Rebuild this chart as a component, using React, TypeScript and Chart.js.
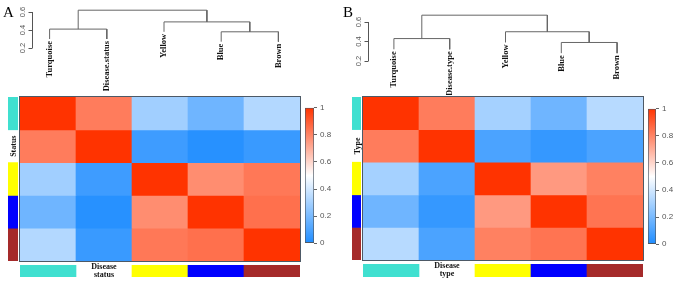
import React, { useEffect, useRef } from 'react';
import { Chart, registerables } from 'chart.js';
Chart.register(...registerables);

// ---------------- data ----------------
const LABELS_A = ['Turquoise', 'Disease.status', 'Yellow', 'Blue', 'Brown'];
const LABELS_B = ['Turquoise', 'Disease.type', 'Yellow', 'Blue', 'Brown'];

const CORR_A = [
  [1.0, 0.82, 0.29, 0.18, 0.33],
  [0.82, 1.0, 0.07, 0.02, 0.06],
  [0.29, 0.07, 1.0, 0.78, 0.83],
  [0.18, 0.02, 0.78, 1.0, 0.85],
  [0.33, 0.06, 0.83, 0.85, 1.0],
];
const CORR_B = [
  [1.0, 0.82, 0.3, 0.18, 0.34],
  [0.82, 1.0, 0.1, 0.05, 0.1],
  [0.3, 0.1, 1.0, 0.75, 0.81],
  [0.18, 0.05, 0.75, 1.0, 0.84],
  [0.34, 0.1, 0.81, 0.84, 1.0],
];

// hclust-style merges: [a, b, height]; negative = leaf (1-based), positive = earlier merge (1-based)
const MERGE_A = [[-4, -5, 0.38], [-1, -2, 0.41], [-3, 1, 0.49], [2, 3, 0.62]];
const MERGE_B = [[-4, -5, 0.39], [-1, -2, 0.43], [-3, 1, 0.5], [2, 3, 0.67]];
const HANG = 0.11;

const DENDRO_TICKS = [0.2, 0.4, 0.6];
const COLORBAR_TICKS = [0, 0.2, 0.4, 0.6, 0.8, 1];

const SIDE_COLORS = ['#40E0D0', null, '#FFFF00', '#0000FF', '#A52A2A'];
const BOTTOM_COLORS = ['#40E0D0', null, '#FFFF00', '#0000FF', '#A52A2A'];
const SIDE_LABEL_A = 'Status';
const SIDE_LABEL_B = 'Type';
const BOTTOM_LABEL_A = ['Disease', 'status'];
const BOTTOM_LABEL_B = ['Disease', 'type'];

// ---------------- styles ----------------
const SERIF = "'Liberation Serif', 'DejaVu Serif', serif";
const SANS = "'Liberation Sans', Arial, sans-serif";
const LOW = [30, 140, 255];
const MID = [255, 255, 255];
const HIGH = [255, 51, 0];

function colorFor(v: number) {
  let a, b, t;
  if (v < 0.5) { a = LOW; b = MID; t = v / 0.5; } else { a = MID; b = HIGH; t = (v - 0.5) / 0.5; }
  const c = a.map((x, i) => Math.round(x + (b[i] - x) * t));
  return `rgb(${c[0]},${c[1]},${c[2]})`;
}
const rgb = (c: number[]) => `rgb(${c[0]},${c[1]},${c[2]})`;

function buildDendro(merges: number[][], n: number) {
  const pos: { x: number; h: number }[] = [];
  const leafBottom: number[] = new Array(n).fill(0);
  const segs: { x: number; y: number }[][] = [];
  merges.forEach(([a, b, h]) => {
    const child = (c: number) => {
      if (c < 0) {
        const leaf = -c - 1;
        leafBottom[leaf] = h - HANG;
        return { x: leaf + 0.5, y: h - HANG };
      }
      return { x: pos[c - 1].x, y: pos[c - 1].h };
    };
    const ca = child(a);
    const cb = child(b);
    segs.push([{ x: ca.x, y: ca.y }, { x: ca.x, y: h }, { x: cb.x, y: h }, { x: cb.x, y: cb.y }]);
    pos.push({ x: (ca.x + cb.x) / 2, h });
  });
  return { segs, leafBottom };
}

function ChartBox({ left, top, width, height, config }: any) {
  const ref = useRef<HTMLCanvasElement>(null);
  useEffect(() => {
    const chart = new Chart(ref.current as HTMLCanvasElement, config);
    return () => chart.destroy();
  }, []);
  return (
    <canvas
      ref={ref}
      width={width}
      height={height}
      style={{ position: 'absolute', left, top, width, height }}
    />
  );
}

const baseOptions = (padding: any) => ({
  animation: false,
  responsive: false,
  devicePixelRatio: 1,
  layout: { padding },
  plugins: { legend: { display: false }, tooltip: { enabled: false } },
});

function dendroConfig(labels: string[], merges: number[][], yMin: number, yMax: number, padL: number, padR: number, axisX: number, letter: string) {
  const { segs, leafBottom } = buildDendro(merges, labels.length);
  return {
    type: 'scatter',
    data: {
      datasets: segs.map((s) => ({
        data: s,
        showLine: true,
        borderColor: '#666',
        borderWidth: 1,
        pointRadius: 0,
        fill: false,
        tension: 0,
      })),
    },
    options: {
      ...baseOptions({ left: padL, right: padR, top: 0, bottom: 0 }),
      scales: {
        x: { type: 'linear', min: 0, max: labels.length, display: false },
        y: { type: 'linear', min: yMin, max: yMax, display: false },
      },
    },
    plugins: [
      {
        id: 'dendroText',
        afterDraw(chart: any) {
          const ctx = chart.ctx;
          const xs = chart.scales.x;
          const ys = chart.scales.y;
          ctx.save();
          // leaf labels
          ctx.fillStyle = '#111';
          ctx.font = `bold 8.5px ${SERIF}`;
          labels.forEach((lab, i) => {
            const px = xs.getPixelForValue(i + 0.5);
            const py = ys.getPixelForValue(leafBottom[i]) + 2;
            ctx.save();
            ctx.translate(px, py);
            ctx.rotate(-Math.PI / 2);
            ctx.textAlign = 'right';
            ctx.textBaseline = 'middle';
            ctx.fillText(lab, 0, 0);
            ctx.restore();
          });
          // height axis
          const ax = Math.round(xs.getPixelForValue(axisX)) + 0.5;
          const yTop = ys.getPixelForValue(DENDRO_TICKS[DENDRO_TICKS.length - 1]);
          const yBot = ys.getPixelForValue(DENDRO_TICKS[0]);
          ctx.strokeStyle = '#555';
          ctx.lineWidth = 1;
          ctx.beginPath();
          ctx.moveTo(ax, yTop);
          ctx.lineTo(ax, yBot);
          DENDRO_TICKS.forEach((t) => {
            const ty = Math.round(ys.getPixelForValue(t)) + 0.5;
            ctx.moveTo(ax, ty);
            ctx.lineTo(ax - 4, ty);
          });
          ctx.stroke();
          ctx.fillStyle = '#555';
          ctx.font = `7.5px ${SANS}`;
          DENDRO_TICKS.forEach((t) => {
            const ty = ys.getPixelForValue(t);
            ctx.save();
            ctx.translate(ax - 10, ty);
            ctx.rotate(-Math.PI / 2);
            ctx.textAlign = 'center';
            ctx.textBaseline = 'middle';
            ctx.fillText(t.toFixed(1), 0, 0);
            ctx.restore();
          });
          // panel letter
          ctx.fillStyle = '#000';
          ctx.font = `15px ${SERIF}`;
          ctx.textAlign = 'left';
          ctx.textBaseline = 'alphabetic';
          ctx.fillText(letter, 3, 17);
          ctx.restore();
        },
      },
    ],
  };
}

function heatConfig(labels: string[], corr: number[][]) {
  const n = labels.length;
  return {
    type: 'bar',
    data: {
      labels,
      datasets: corr.map((row, r) => ({
        data: row.map(() => [n - 1 - r, n - r]),
        backgroundColor: row.map((v) => colorFor(v)),
        borderWidth: 0,
        barPercentage: 1,
        categoryPercentage: 1,
        grouped: false,
      })),
    },
    options: {
      ...baseOptions(1),
      scales: {
        x: { display: false },
        y: { type: 'linear', min: 0, max: n, display: false },
      },
    },
    plugins: [
      {
        id: 'frame',
        afterDraw(chart: any) {
          const { left, top, right, bottom } = chart.chartArea;
          const ctx = chart.ctx;
          ctx.save();
          ctx.strokeStyle = '#4d5966';
          ctx.lineWidth = 1;
          ctx.strokeRect(Math.round(left) - 0.5, Math.round(top) - 0.5, Math.round(right - left) + 1, Math.round(bottom - top) + 1);
          ctx.restore();
        },
      },
    ],
  };
}

function sideConfig(colors: (string | null)[], label: string) {
  const n = colors.length;
  return {
    type: 'bar',
    data: {
      labels: ['side'],
      datasets: colors.map((c, r) => ({
        data: [[n - 1 - r, n - r]],
        backgroundColor: c || 'rgba(0,0,0,0)',
        borderWidth: 0,
        barPercentage: 1,
        categoryPercentage: 1,
        grouped: false,
      })),
    },
    options: {
      ...baseOptions({ left: 2, right: 2, top: 0, bottom: 0 }),
      scales: {
        x: { display: false },
        y: { type: 'linear', min: 0, max: n, display: false },
      },
    },
    plugins: [
      {
        id: 'sideText',
        afterDraw(chart: any) {
          const idx = colors.findIndex((c) => !c);
          if (idx < 0) return;
          const ys = chart.scales.y;
          const cy = ys.getPixelForValue(n - idx - 0.5);
          const cx = (chart.chartArea.left + chart.chartArea.right) / 2 + 1;
          const ctx = chart.ctx;
          ctx.save();
          ctx.translate(cx, cy);
          ctx.rotate(-Math.PI / 2);
          ctx.fillStyle = '#111';
          ctx.font = `bold 8px ${SERIF}`;
          ctx.textAlign = 'center';
          ctx.textBaseline = 'middle';
          ctx.fillText(label, 0, 0);
          ctx.restore();
        },
      },
    ],
  };
}

function bottomConfig(colors: (string | null)[], lines: string[], lineGap: number) {
  return {
    type: 'bar',
    data: {
      labels: colors.map((_, i) => String(i)),
      datasets: [
        {
          data: colors.map(() => [0, 1]),
          backgroundColor: colors.map((c) => c || 'rgba(0,0,0,0)'),
          borderWidth: 0,
          barPercentage: 1,
          categoryPercentage: 1,
        },
      ],
    },
    options: {
      ...baseOptions({ left: 0, right: 0, top: 3, bottom: 6 }),
      scales: {
        x: { display: false },
        y: { type: 'linear', min: 0, max: 1, display: false },
      },
    },
    plugins: [
      {
        id: 'bottomText',
        afterDraw(chart: any) {
          const idx = colors.findIndex((c) => !c);
          if (idx < 0) return;
          const cx = chart.scales.x.getPixelForValue(idx);
          const ctx = chart.ctx;
          ctx.save();
          ctx.fillStyle = '#111';
          ctx.font = `bold 8px ${SERIF}`;
          ctx.textAlign = 'center';
          ctx.textBaseline = 'middle';
          lines.forEach((l, i) => ctx.fillText(l, cx, 4.5 + i * lineGap));
          ctx.restore();
        },
      },
    ],
  };
}

function colorbarConfig(axisWidth: number) {
  return {
    type: 'bar',
    data: {
      labels: ['cb'],
      datasets: [
        {
          data: [[0, 1]],
          backgroundColor: (c: any) => {
            const area = c.chart.chartArea;
            if (!area) return rgb(LOW);
            const g = c.chart.ctx.createLinearGradient(0, area.bottom, 0, area.top);
            g.addColorStop(0, rgb(LOW));
            g.addColorStop(0.5, rgb(MID));
            g.addColorStop(1, rgb(HIGH));
            return g;
          },
          borderColor: '#4d5966',
          borderWidth: 1,
          borderSkipped: false,
          barPercentage: 1,
          categoryPercentage: 1,
        },
      ],
    },
    options: {
      ...baseOptions({ left: 1, right: 0, top: 4, bottom: 4 }),
      scales: {
        x: { display: false },
        y: {
          type: 'linear',
          position: 'right',
          min: 0,
          max: 1,
          afterBuildTicks: (s: any) => {
            s.ticks = COLORBAR_TICKS.map((v) => ({ value: v }));
          },
          afterFit: (s: any) => {
            s.width = axisWidth;
          },
          grid: { drawOnChartArea: false, drawTicks: true, tickLength: 3, color: '#666' },
          border: { display: false },
          ticks: {
            font: { size: 8, family: SANS },
            color: '#555',
            padding: 3,
            callback: (v: number) => String(Math.round(v * 10) / 10),
          },
        },
      },
    },
  };
}

export default function App() {
  useEffect(() => {
    document.body.style.margin = '0';
  }, []);
  return (
    <div style={{ position: 'fixed', left: 0, top: 0, width: 677, height: 283, background: '#fff', overflow: 'hidden' }}>
      {/* Panel A */}
      <ChartBox left={0} top={0} width={340} height={95} config={dendroConfig(LABELS_A, MERGE_A, -0.3222, 0.7333, 21, 33, 0.2, 'A')} />
      <ChartBox left={19} top={96} width={282} height={166} config={heatConfig(LABELS_A, CORR_A)} />
      <ChartBox left={6} top={97} width={14} height={164} config={sideConfig(SIDE_COLORS, SIDE_LABEL_A)} />
      <ChartBox left={20} top={262} width={280} height={21} config={bottomConfig(BOTTOM_COLORS, BOTTOM_LABEL_A, 8.5)} />
      <ChartBox left={304} top={100} width={36} height={151} config={colorbarConfig(26)} />
      {/* Panel B */}
      <ChartBox left={340} top={0} width={337} height={95} config={dendroConfig(LABELS_B, MERGE_B, -0.1487, 0.8256, 26, 32, 0.04, 'B')} />
      <ChartBox left={362} top={96} width={282} height={165} config={heatConfig(LABELS_B, CORR_B)} />
      <ChartBox left={350} top={97} width={13} height={163} config={sideConfig(SIDE_COLORS, SIDE_LABEL_B)} />
      <ChartBox left={363} top={261} width={280} height={22} config={bottomConfig(BOTTOM_COLORS, BOTTOM_LABEL_B, 8)} />
      <ChartBox left={647} top={101} width={30} height={151} config={colorbarConfig(21)} />
    </div>
  );
}
